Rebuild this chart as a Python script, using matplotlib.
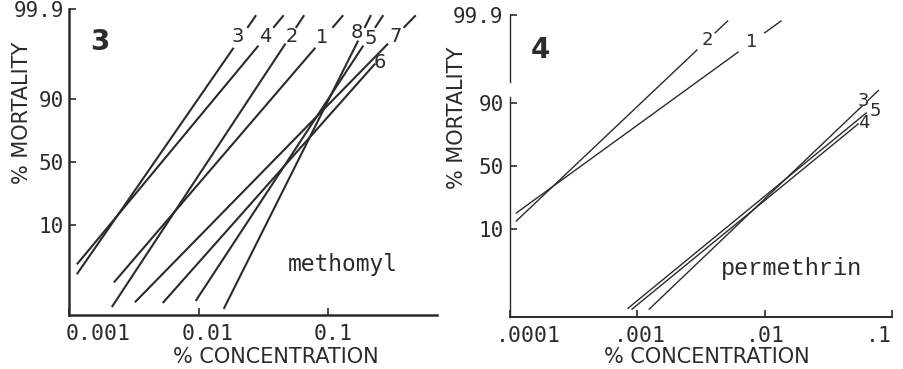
import math
import numpy as np
import matplotlib
matplotlib.use("Agg")
import matplotlib.pyplot as plt
from matplotlib.transforms import ScaledTranslation

# panel 3: methomyl, probit lines (low end / high end)
m_ids = ['3', '4', '2', '1', '7', '6', '5', '8']
m_conc_lo = [0.00115, 0.00115, 0.00214, 0.00222, 0.00322, 0.00528, 0.00948, 0.0156]
m_mort_lo = [1.17, 1.93, 0.17, 0.75, 0.23, 0.22, 0.25, 0.15]
m_conc_hi = [0.0186, 0.0289, 0.0467, 0.0794, 0.289, 0.230, 0.186, 0.170]
m_mort_hi = [98.95, 99.06, 99.16, 98.95, 99.16, 97.66, 99.06, 99.29]

# panel 4: permethrin
p_ids = ['2', '1', '3', '5', '4']
p_conc_lo = [0.000112, 0.000112, 0.00124, 0.000845, 0.000909]
p_mort_lo = [13.0, 16.8, 0.17, 0.18, 0.17]
p_conc_hi = [0.00294, 0.00618, 0.0582, 0.0627, 0.0542]
p_mort_hi = [99.12, 99.01, 89.0, 86.1, 80.5]

y_ticks = [10, 50, 90, 99.9]
y_labels = ['10', '50', '90', '99.9']
m_xticks = [0.001, 0.01, 0.1]
m_xlabels = ['0.001', '0.01', '0.1']
p_xticks = [0.0001, 0.001, 0.01, 0.1]
p_xlabels = ['.0001', '.001', '.01', '.1']

INK = '#2b2b2b'
SQ2 = math.sqrt(2)
_erf = np.vectorize(math.erf, otypes=[float])


def pct_to_probit(pct):
    p = np.clip(np.asarray(pct, float) / 100, 1e-9, 1 - 1e-9)
    lo = np.full(p.shape, -7.0)
    hi = np.full(p.shape, 7.0)
    for _ in range(45):
        mid = (lo + hi) / 2
        below = 0.5 * (1 + _erf(mid / SQ2)) < p
        lo = np.where(below, mid, lo)
        hi = np.where(below, hi, mid)
    return (lo + hi) / 2


def probit_to_pct(z):
    return 50 * (1 + _erf(np.asarray(z, float) / SQ2))


def extension(clo, mlo, chi, mhi, levels):
    # point of the same probit line at given mortality levels
    z0, z1 = pct_to_probit([mlo, mhi])
    l0, l1 = np.log10(clo), np.log10(chi)
    zq = pct_to_probit(levels)
    return 10 ** (l0 + (zq - z0) * (l1 - l0) / (z1 - z0)), levels


fig = plt.figure(figsize=(9.04, 3.69), dpi=100)
ax3 = fig.add_axes([69 / 904, 1 - 315 / 369, 368 / 904, 306 / 369])
ax4 = fig.add_axes([510 / 904, 1 - 317 / 369, 382 / 904, 302 / 369])


def setup(ax, xlim, xticks, xlabels, xoffs, spine_w, ypad):
    ax.set_xscale('log')
    ax.set_yscale('function', functions=(pct_to_probit, probit_to_pct))
    ax.set_xlim(*xlim)
    ax.set_ylim(0.1, 99.9)
    for s in ('top', 'right'):
        ax.spines[s].set_visible(False)
    for s in ('left', 'bottom'):
        ax.spines[s].set_linewidth(spine_w[s])
        ax.spines[s].set_color(INK)
    ax.set_yticks(y_ticks, y_labels)
    ax.minorticks_off()
    ax.set_xticks(xticks)
    ax.tick_params(axis='both', direction='in', length=5, width=1.2, color=INK)
    ax.tick_params(axis='y', pad=ypad, labelsize=15, labelcolor=INK)
    ax.tick_params(axis='x', labelbottom=False)
    for lab in ax.get_yticklabels():
        lab.set_family('DejaVu Sans Mono')
    for xv, lab, dx in zip(xticks, xlabels, xoffs):
        tr = ax.get_xaxis_transform() + ScaledTranslation(dx / 100, -9 / 100, fig.dpi_scale_trans)
        ax.text(xv, 0, lab, transform=tr, ha='center', va='top', fontsize=15.5,
                family='DejaVu Sans Mono', color=INK)


setup(ax3, (0.001, 0.689), m_xticks, m_xlabels, [29, 9, 5],
      {'left': 1.8, 'bottom': 1.8}, 3.5)
setup(ax4, (0.0001, 0.1), p_xticks, p_xlabels, [18, 3, 1, -13],
      {'left': 1.0, 'bottom': 1.4}, 4.5)

# panel 3 lines
m_off = {'3': (4, 11), '4': (7, 9), '2': (6, 7), '1': (7, 10),
         '7': (7, 7), '6': (5, 1), '5': (7, 7), '8': (-1, 8)}
for lab, c0, m0, c1, m1 in zip(m_ids, m_conc_lo, m_mort_lo, m_conc_hi, m_mort_hi):
    ax3.plot([c0, c1], [m0, m1], color=INK, lw=1.5, solid_capstyle='butt')
    if lab != '6':
        xs, ys = extension(c0, m0, c1, m1, [99.68, 99.84])
        ax3.plot(xs, ys, color=INK, lw=1.5, clip_on=False)
    dx, dy = m_off[lab]
    ax3.annotate(lab, (c1, m1), xytext=(dx * 0.72, dy * 0.72), textcoords='offset points',
                 ha='center', va='center', fontsize=14, color=INK)

# panel 4 lines
p_off = {'2': (10, 10), '1': (14, 10), '3': (1, 5), '5': (9, 2), '4': (6, 1)}
p_dash = {'2': [99.68, 99.85], '1': [99.68, 99.85], '3': [91.1, 93.9]}
for lab, c0, m0, c1, m1 in zip(p_ids, p_conc_lo, p_mort_lo, p_conc_hi, p_mort_hi):
    ax4.plot([c0, c1], [m0, m1], color=INK, lw=1.0)
    if lab in p_dash:
        xs, ys = extension(c0, m0, c1, m1, p_dash[lab])
        ax4.plot(xs, ys, color=INK, lw=1.0, clip_on=False)
    dx, dy = p_off[lab]
    ax4.annotate(lab, (c1, m1), xytext=(dx * 0.72, dy * 0.72), textcoords='offset points',
                 ha='center', va='center', fontsize=13, color=INK)

# broken y axis in panel 4
ax4.spines['left'].set_visible(False)
yt = ax4.get_yaxis_transform()
ax4.plot([0, 0], [0.1, 92.1], transform=yt, color=INK, lw=1.0, clip_on=False)
ax4.plot([0, 0], [95.7, 99.9], transform=yt, color=INK, lw=1.0, clip_on=False)


def fxy(px, py):
    return px / 904, 1 - py / 369


fig.text(*fxy(22, 113), '% MORTALITY', rotation=90, ha='center', va='center',
         fontsize=15, color=INK)
fig.text(*fxy(457, 118), '% MORTALITY', rotation=90, ha='center', va='center',
         fontsize=15, color=INK)
fig.text(*fxy(276, 357), '% CONCENTRATION', ha='center', va='center', fontsize=15, color=INK)
fig.text(*fxy(707, 357), '% CONCENTRATION', ha='center', va='center', fontsize=15, color=INK)
fig.text(*fxy(100, 42), '3', ha='center', va='center', fontsize=20, fontweight='bold', color=INK)
fig.text(*fxy(540, 50), '4', ha='center', va='center', fontsize=20, fontweight='bold', color=INK)
fig.text(*fxy(343, 264), 'methomyl', ha='center', va='center', fontsize=16.5,
         family='DejaVu Sans Mono', color=INK)
fig.text(*fxy(792, 268), 'permethrin', ha='center', va='center', fontsize=17,
         family='Liberation Mono', color=INK)

fig.savefig('out.png', dpi=100)
